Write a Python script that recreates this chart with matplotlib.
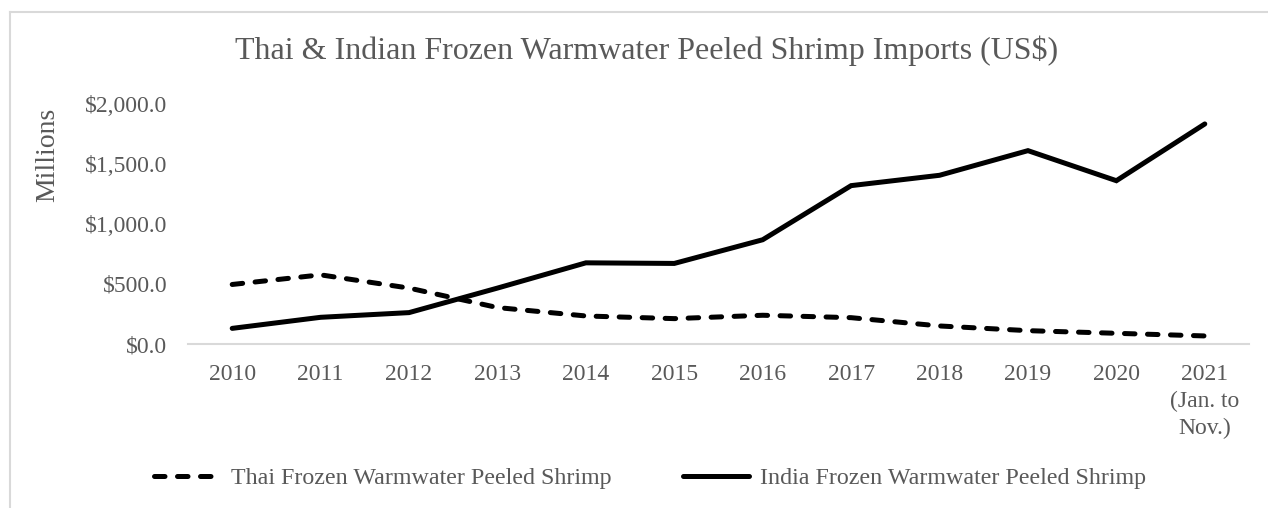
import matplotlib
matplotlib.use('Agg')
import matplotlib.pyplot as plt
from matplotlib.ticker import FuncFormatter
from matplotlib.lines import Line2D

years = ['2010', '2011', '2012', '2013', '2014', '2015', '2016', '2017',
         '2018', '2019', '2020', '2021\n(Jan. to\nNov.)']
thai = [495, 575, 465, 303, 233, 211, 239, 219, 150, 111, 89, 67]
india = [130, 222, 261, 465, 675, 670, 867, 1317, 1403, 1608, 1358, 1830]
thai_label = 'Thai Frozen Warmwater Peeled Shrimp'
india_label = 'India Frozen Warmwater Peeled Shrimp'

plt.rcParams['font.family'] = ['Liberation Serif', 'DejaVu Serif']
gray = '#595959'

fig = plt.figure(figsize=(12.68, 5.08), dpi=100)
ax = fig.add_axes([188 / 1268, 1 - 344 / 508, (1249 - 188) / 1268, (344 - 103.5) / 508])

x = range(len(years))
lw = 3.6
ax.plot(x, thai, color='black', lw=lw, dashes=(2.1, 2.5),
        dash_capstyle='round', solid_capstyle='round', label=thai_label)
ax.plot(x, india, color='black', lw=lw, solid_capstyle='round',
        solid_joinstyle='miter', label=india_label)

ax.set_xlim(-0.5, len(years) - 0.5)
ax.set_ylim(0, 2000)
ax.set_yticks([0, 500, 1000, 1500, 2000])
ax.yaxis.set_major_formatter(FuncFormatter(lambda v, p: '${:,.1f}'.format(v)))
ax.set_xticks(list(x))
ax.set_xticklabels(years, linespacing=1.35)

for s in ['top', 'right', 'left']:
    ax.spines[s].set_visible(False)
ax.spines['bottom'].set_color('#d9d9d9')
ax.spines['bottom'].set_linewidth(1.5)
ax.tick_params(axis='both', length=0, labelsize=17, colors=gray)
ax.tick_params(axis='y', pad=15)
ax.tick_params(axis='x', pad=14.5)

fig.text(48 / 1268, 1 - 155 / 508, 'Millions', rotation=90, ha='center', va='center',
         fontsize=20, color=gray)
fig.text(647 / 1268, 1 - 51 / 508, 'Thai & Indian Frozen Warmwater Peeled Shrimp Imports (US$)',
         ha='center', va='center', fontsize=23, color=gray)

# chart border (light gray), cut off on the right and bottom
fig.add_artist(Line2D([10 / 1268, 10 / 1268], [0, 1 - 12 / 508], color='#d9d9d9', lw=1.5))
fig.add_artist(Line2D([10 / 1268, 1], [1 - 12 / 508, 1 - 12 / 508], color='#d9d9d9', lw=1.5))

handles = [Line2D([], [], color='black', lw=lw, dashes=(2.1, 2.5), dash_capstyle='round'),
           Line2D([], [], color='black', lw=lw, solid_capstyle='round')]
leg = fig.legend(handles, [thai_label, india_label], loc='center',
                 bbox_to_anchor=(650 / 1268, 1 - 478 / 508), ncol=2, frameon=False,
                 fontsize=17.3, handlelength=2.75, handletextpad=0.45, columnspacing=2.95)
for t in leg.get_texts():
    t.set_color(gray)

fig.savefig('out.png', dpi=100)
